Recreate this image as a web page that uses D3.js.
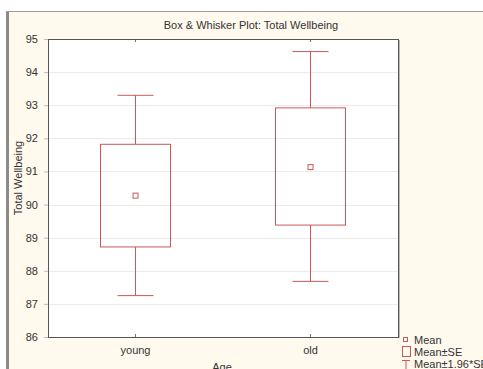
<!DOCTYPE html>
<html>
<head>
<meta charset="utf-8">
<script src="https://cdn.jsdelivr.net/npm/d3@7"></script>
<style>
body { margin: 0; background: #fff; }
text { font-family: "Liberation Sans", Arial, sans-serif; fill: #333; }
</style>
</head>
<body>
<svg id="chart" width="483" height="369"></svg>
<script>
// groups and their statistics
let groups = ["young", "old"]
let means = [90.27, 91.13]
let seLow = [88.72, 89.38]
let seHigh = [91.82, 92.92]
let ciLow = [87.25, 87.68]
let ciHigh = [93.3, 94.62]
let yTicks = [86, 87, 88, 89, 90, 91, 92, 93, 94, 95]

let plotLeft = 48, plotRight = 398, plotTop = 39, plotBottom = 337
let red = "#c8585a"

let svg = d3.select("#chart")

// outer frame
svg.append("rect").attr("x", 6).attr("y", 11).attr("width", 477).attr("height", 358).attr("fill", "#fff9ee")
svg.append("line").attr("x1", 7.5).attr("x2", 7.5).attr("y1", 11).attr("y2", 369).attr("stroke", "#8a8a8a").attr("stroke-width", 3)
svg.append("line").attr("x1", 6).attr("x2", 483).attr("y1", 11.5).attr("y2", 11.5).attr("stroke", "#9a9a9a").attr("stroke-width", 1)

let xscale = d3.scaleBand().domain(groups).range([plotLeft, plotRight])
let yscale = d3.scaleLinear().domain([86, 95]).range([plotBottom, plotTop])

// plot area
svg.append("rect").attr("x", plotLeft).attr("y", plotTop).attr("width", plotRight - plotLeft).attr("height", plotBottom - plotTop).attr("fill", "#fff")

// grid
svg.append("g").selectAll("line").data(yTicks.slice(1, -1)).enter().append("line")
    .attr("x1", plotLeft).attr("x2", plotRight)
    .attr("y1", d => Math.round(yscale(d)) + 0.5).attr("y2", d => Math.round(yscale(d)) + 0.5)
    .attr("stroke", "#ebebeb")

// axes
let yAxis = d3.axisLeft(yscale).tickValues(yTicks).tickSize(4).tickPadding(6).tickFormat(d3.format("d"))
let gy = svg.append("g").attr("transform", "translate(" + plotLeft + ",0)").call(yAxis)
gy.select(".domain").remove()
gy.selectAll("line").attr("stroke", "#bbb")
gy.selectAll("text").style("font-size", "11px").attr("fill", "#333")

let xAxis = d3.axisBottom(xscale).tickSize(-3).tickPadding(9)
let gx = svg.append("g").attr("transform", "translate(0," + plotBottom + ")").call(xAxis)
gx.select(".domain").remove()
gx.selectAll("line").attr("stroke", "#777")
gx.selectAll("text").style("font-size", "11px").attr("fill", "#333")

let xTop = d3.axisTop(xscale).tickSize(-3).tickFormat("")
let gt = svg.append("g").attr("transform", "translate(0," + plotTop + ")").call(xTop)
gt.select(".domain").remove()
gt.selectAll("line").attr("stroke", "#777")

// plot border
svg.append("rect").attr("x", plotLeft + 0.5).attr("y", plotTop + 0.5).attr("width", plotRight - plotLeft).attr("height", plotBottom - plotTop)
    .attr("fill", "none").attr("stroke", "#555")
svg.append("line").attr("x1", plotRight + 1.5).attr("x2", plotRight + 1.5).attr("y1", plotTop + 1).attr("y2", plotBottom + 1).attr("stroke", "#bbb")

// boxes
let boxW = 70, capW = 36
let cx = d => xscale(d) + xscale.bandwidth() / 2
let g = svg.append("g").selectAll("g").data(groups).enter().append("g")
g.append("line")
    .attr("x1", cx).attr("x2", cx)
    .attr("y1", (d, i) => yscale(ciHigh[i])).attr("y2", (d, i) => yscale(seHigh[i]))
    .attr("stroke", red)
g.append("line")
    .attr("x1", cx).attr("x2", cx)
    .attr("y1", (d, i) => yscale(seLow[i])).attr("y2", (d, i) => yscale(ciLow[i]))
    .attr("stroke", red)
g.append("line")
    .attr("x1", d => cx(d) - capW / 2).attr("x2", d => cx(d) + capW / 2)
    .attr("y1", (d, i) => yscale(ciHigh[i])).attr("y2", (d, i) => yscale(ciHigh[i]))
    .attr("stroke", red)
g.append("line")
    .attr("x1", d => cx(d) - capW / 2).attr("x2", d => cx(d) + capW / 2)
    .attr("y1", (d, i) => yscale(ciLow[i])).attr("y2", (d, i) => yscale(ciLow[i]))
    .attr("stroke", red)
g.append("rect")
    .attr("x", d => cx(d) - boxW / 2)
    .attr("y", (d, i) => yscale(seHigh[i]))
    .attr("width", boxW)
    .attr("height", (d, i) => yscale(seLow[i]) - yscale(seHigh[i]))
    .attr("fill", "none").attr("stroke", red)
g.append("rect")
    .attr("x", d => cx(d) - 2.5)
    .attr("y", (d, i) => yscale(means[i]) - 2.5)
    .attr("width", 5).attr("height", 5)
    .attr("fill", "none").attr("stroke", red)

// titles
svg.append("text").attr("x", 251).attr("y", 29).attr("text-anchor", "middle").style("font-size", "11px").text("Box & Whisker Plot: Total Wellbeing")
svg.append("text").attr("transform", "translate(22,178) rotate(-90)").attr("text-anchor", "middle").style("font-size", "11px").text("Total Wellbeing")
svg.append("text").attr("x", 222).attr("y", 371).attr("text-anchor", "middle").style("font-size", "11px").text("Age")

// legend
svg.append("rect").attr("x", 403.5).attr("y", 337.5).attr("width", 4).attr("height", 4).attr("fill", "none").attr("stroke", red)
svg.append("text").attr("x", 414).attr("y", 344).style("font-size", "11px").text("Mean")
svg.append("rect").attr("x", 402.5).attr("y", 346.5).attr("width", 8).attr("height", 10).attr("fill", "none").attr("stroke", red)
svg.append("text").attr("x", 414).attr("y", 356).style("font-size", "11px").text("Mean±SE")
svg.append("line").attr("x1", 402).attr("x2", 410).attr("y1", 360.5).attr("y2", 360.5).attr("stroke", red)
svg.append("line").attr("x1", 406).attr("x2", 406).attr("y1", 360).attr("y2", 369).attr("stroke", red)
svg.append("text").attr("x", 414).attr("y", 368).style("font-size", "11px").text("Mean±1.96*SE")
</script>
</body>
</html>
